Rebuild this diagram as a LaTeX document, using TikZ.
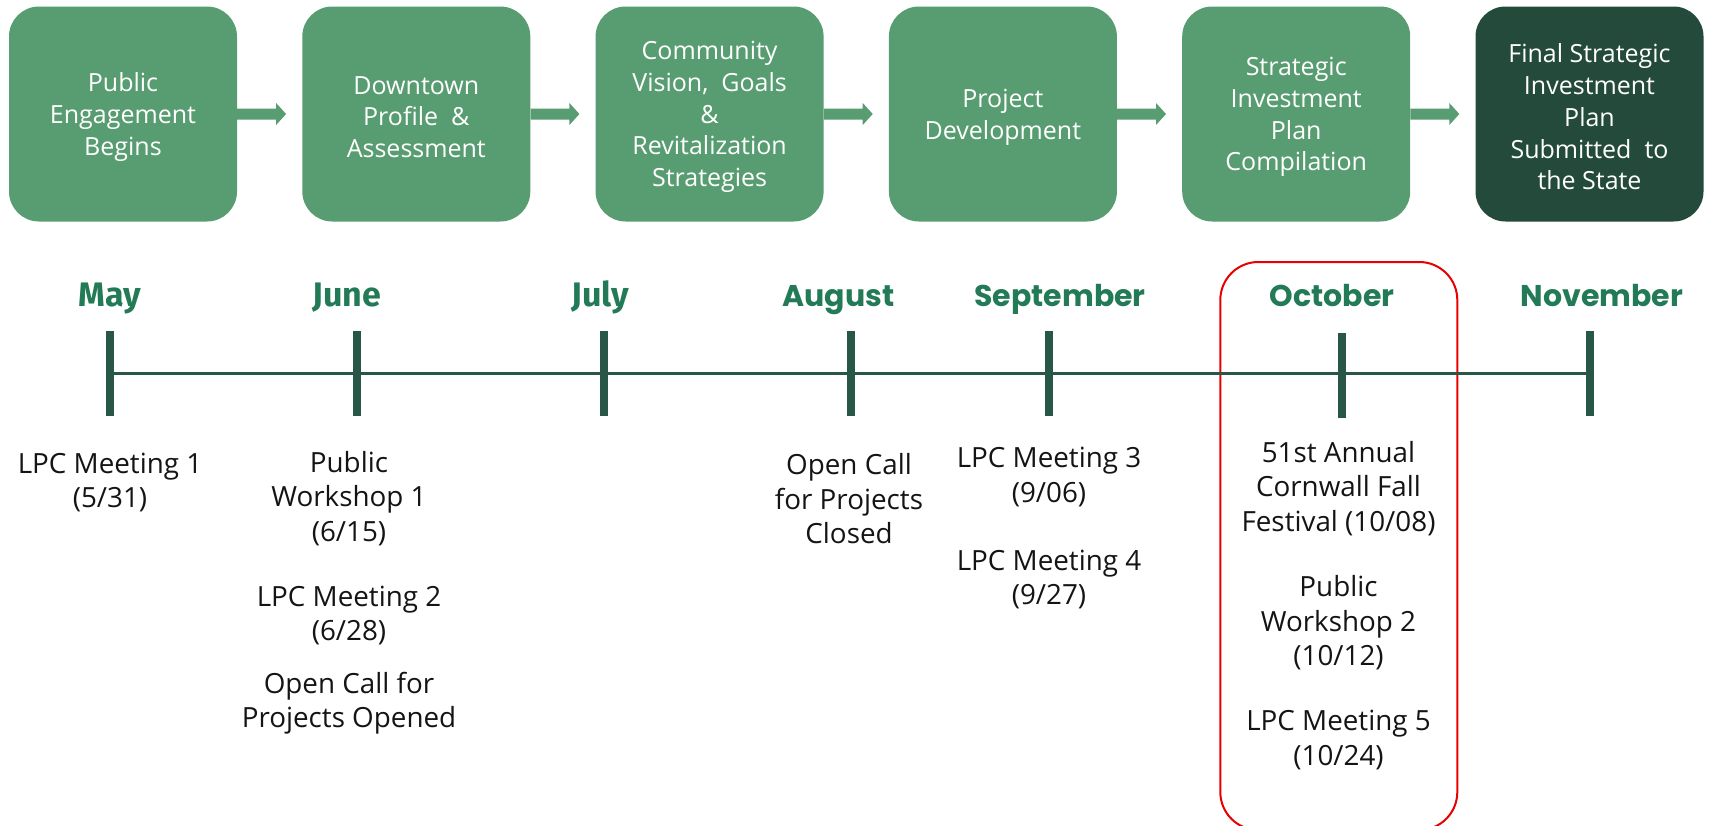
\documentclass[tikz,border=0pt]{standalone}
\usepackage{fontspec}
\setmainfont{Open Sans}
\newfontfamily\monthfont{Poppins}
\newfontfamily\monthfontb{Fira Sans}
\usetikzlibrary{calc}
\definecolor{boxc}{RGB}{88,157,113}
\definecolor{darkboxc}{RGB}{36,74,60}
\definecolor{monthc}{RGB}{34,122,86}
\definecolor{tickc}{RGB}{40,87,72}
\definecolor{framec}{RGB}{232,0,0}
\definecolor{bodyc}{RGB}{20,20,20}
\tikzset{
  phase/.style={fill=boxc, rounded corners=30pt, minimum width=228pt, minimum height=215pt, inner sep=0pt},
  finalphase/.style={phase, fill=darkboxc},
  phasetext/.style={text=white, inner sep=0pt, align=center, yshift=-3pt, font=\fontsize{25}{31.7}\selectfont},
  month/.style={text=monthc, anchor=base, font=\monthfont\bfseries\fontsize{30}{34}\selectfont, inner sep=0pt},
  monthb/.style={month, font=\monthfontb\bfseries\fontsize{34}{38}\selectfont},
  tick/.style={fill=tickc, minimum width=8pt, minimum height=85pt, inner sep=0pt},
  event/.style={text=bodyc, align=center, inner sep=0pt, font=\fontsize{27.8}{34.5}\selectfont},
  arrc/.style={fill=boxc},
  frame/.style={draw=framec, line width=2pt, rounded corners=38pt, minimum width=237pt, minimum height=568pt, inner sep=0pt}
}
\newcommand\phaseconn[2]{%
  \fill[arrc] ([yshift=-5.5pt]#1.east) -- ([xshift=-26pt,yshift=-5.5pt]#2.west)
    -- ([xshift=-26pt,yshift=-11pt]#2.west) -- ([xshift=-16pt]#2.west)
    -- ([xshift=-26pt,yshift=11pt]#2.west) -- ([xshift=-26pt,yshift=5.5pt]#2.west)
    -- ([yshift=5.5pt]#1.east) -- cycle;}
\begin{document}
\begin{tikzpicture}[x=1pt,y=-1pt]
\useasboundingbox (0,0) rectangle (1712,825);
% phase boxes
\node[phase] (b1) at (123,114) {};
\node[phase] (b2) at (416.3,114) {};
\node[phase] (b3) at (709.6,114) {};
\node[phase] (b4) at (1002.9,114) {};
\node[phase] (b5) at (1296.2,114) {};
\node[finalphase] (b6) at (1589.5,114) {};
\node[phasetext] (b1t) at (b1) {Public\\Engagement\\Begins};
\node[phasetext] (b2t) at (b2) {Downtown\\Profile \ \&\\Assessment};
\node[phasetext] (b3t) at (b3) {Community\\Vision, \ Goals\\\&\\Revitalization\\Strategies};
\node[phasetext] (b4t) at (b4) {Project\\Development};
\node[phasetext] (b5t) at (b5) {Strategic\\Investment\\Plan\\Compilation};
\node[phasetext] (b6t) at (b6) {Final Strategic\\Investment\\Plan\\Submitted \ to\\the State};
\phaseconn{b1}{b2}
\phaseconn{b2}{b3}
\phaseconn{b3}{b4}
\phaseconn{b4}{b5}
\phaseconn{b5}{b6}
% October frame
\node[frame] (oct) at (1338.8,546) {};
% timeline
\node[tick] (t1) at (110.3,373.5) {};
\node[tick] (t2) at (357,373.5) {};
\node[tick] (t3) at (603.8,373.5) {};
\node[tick] (t4) at (850.5,373.5) {};
\node[tick] (t5) at (1049,373.5) {};
\node[tick] (t6) at (1341.8,375.5) {};
\node[tick] (t7) at (1589.6,373.5) {};
\coordinate (lineend) at ([xshift=4pt]t7.center);
\draw[tickc, line width=2.5pt] (t1.center) -- (lineend);
% months
\node[monthb] (m1) at (110,306) {May};
\node[monthb] (m2) at (347,306) {June};
\node[monthb] (m3) at (600.5,306) {July};
\node[month] (m4) at (838.5,306) {August};
\node[month] (m5) at (1060,306) {September};
\node[month] (m6) at (1332,306) {October};
\node[month] (m7) at (1602,306) {November};
% events
\node[event] (e1) at (110,482.5) {LPC Meeting 1\\(5/31)};
\node[event] (e2) at (349,498.5) {Public\\Workshop 1\\(6/15)};
\node[event] (e3) at (349,615.5) {LPC Meeting 2\\(6/28)};
\node[event] (e4) at (349,703) {Open Call for\\Projects Opened};
\node[event] (e5) at (849,499) {Open Call\\for Projects\\Closed};
\node[event] (e6) at (1049,477) {LPC Meeting 3\\(9/06)};
\node[event] (e7) at (1049,579.5) {LPC Meeting 4\\(9/27)};
\node[event] (e8) at (1338.5,488.5) {51st Annual\\Cornwall Fall\\Festival (10/08)};
\node[event] (e9) at (1338.5,622.8) {Public\\Workshop 2\\(10/12)};
\node[event] (e10) at (1338.5,739.8) {LPC Meeting 5\\(10/24)};
\end{tikzpicture}
\end{document}
